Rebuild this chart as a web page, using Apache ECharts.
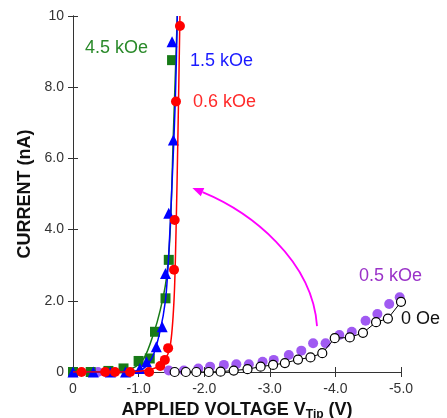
<!DOCTYPE html>
<html><head><meta charset="utf-8">
<script src="https://cdn.jsdelivr.net/npm/echarts@6/dist/echarts.min.js"></script>
<style>html,body{margin:0;padding:0;background:#fff}#c{width:447px;height:418px}</style>
</head><body><div id="c"></div>
<script>
// ---- data ----
const greenV = [0, -0.27, -0.54, -0.77, -1.0, -1.17, -1.25, -1.41, -1.46, -1.51];
const greenI = [0, 0, 0.03, 0.1, 0.31, 0.38, 1.13, 2.07, 3.15, 8.76];
const blueV = [0, -0.31, -0.57, -0.80, -1.02, -1.12, -1.27, -1.36, -1.41, -1.46, -1.53, -1.51];
const blueI = [0, 0, 0, 0, 0.1, 0.29, 0.71, 1.27, 2.77, 4.46, 6.52, 9.28];
const redV = [-0.13, -0.49, -0.64, -0.87, -1.16, -1.33, -1.40, -1.45, -1.54, -1.55, -1.57, -1.63];
const redI = [0, 0, 0, 0, 0, 0.17, 0.34, 0.67, 2.87, 4.27, 7.6, 9.72];
const greenFitV = [0, -0.5, -0.9, -1.08, -1.23, -1.33, -1.42, -1.48, -1.53, -1.59];
const greenFitI = [0, 0, 0.1, 0.38, 1.09, 1.74, 2.58, 3.9, 6.7, 10];
const blueFitV = [0, -0.5, -1.02, -1.20, -1.32, -1.41, -1.46, -1.51, -1.56, -1.59];
const blueFitI = [0, 0, 0.05, 0.38, 1.09, 2.02, 3.33, 5.3, 7.64, 10];
const redFitV = [0, -0.8, -1.23, -1.38, -1.48, -1.54, -1.57, -1.60, -1.63];
const redFitI = [0, 0, 0.1, 0.29, 0.71, 2.02, 3.9, 6.7, 10];
const blackV = [-1.55, -1.72, -1.88, -2.07, -2.25, -2.45, -2.66, -2.86, -3.05, -3.23, -3.43, -3.62, -3.80, -3.99, -4.22, -4.42, -4.62, -4.80, -5.0];
const blackI = [0, 0, 0, 0, 0.01, 0.04, 0.08, 0.15, 0.2, 0.25, 0.35, 0.41, 0.53, 0.95, 0.97, 1.1, 1.4, 1.5, 1.97];
const purpleV = [-0.38, -1.46, -1.69, -1.91, -2.09, -2.30, -2.49, -2.68, -2.89, -3.06, -3.29, -3.48, -3.66, -3.85, -4.06, -4.25, -4.46, -4.64, -4.82, -4.98];
const purpleI = [0, 0.04, 0.04, 0.1, 0.15, 0.2, 0.22, 0.22, 0.29, 0.34, 0.48, 0.6, 0.81, 0.81, 1.04, 1.13, 1.44, 1.63, 1.91, 2.1];
const xTicks = ['0', '-1.0', '-2.0', '-3.0', '-4.0', '-5.0'];
const yTicks = ['0', '2.0', '4.0', '6.0', '8.0', '10'];
const seriesLabels = ['4.5 kOe', '1.5 kOe', '0.6 kOe', '0.5 kOe', '0 Oe'];
// arrow annotation in data coordinates: start, ctrl1, ctrl2, end
const arrowPts = [[-3.72, 1.29], [-3.65, 3.15], [-2.71, 4.49], [-1.82, 5.17]];

const zip = (a, b) => a.map((v, i) => [v, b[i]]);
const FONT = '"Liberation Sans", Arial, sans-serif';
const GREEN = '#177a17', BLUE = '#0000ff', RED = '#ff0000', PURPLE = '#a05af2';

const chart = echarts.init(document.getElementById('c'), null, {renderer: 'canvas'});
const axisCommon = {
  type: 'value', min: -5, max: 0, interval: 1, inverse: true,
  axisLine: {show: true, lineStyle: {color: '#333', width: 1}},
  axisTick: {show: true, inside: true, length: 5, lineStyle: {color: '#333'}},
  splitLine: {show: false}
};
const yCommon = {
  type: 'value', min: 0, max: 10, interval: 2,
  axisLine: {show: true, lineStyle: {color: '#333', width: 1}},
  axisTick: {show: true, inside: true, length: 5, lineStyle: {color: '#333'}},
  splitLine: {show: false}
};
chart.setOption({
  animation: false,
  backgroundColor: '#fff',
  grid: {left: 73, right: 46, top: 16, bottom: 46, containLabel: false, outerBoundsMode: 'none'},
  xAxis: [
    Object.assign({}, axisCommon, {
      position: 'bottom',
      axisLabel: {fontFamily: FONT, fontSize: 14, color: '#333', margin: 10,
        formatter: v => xTicks[Math.round(-v)]},
      name: 'APPLIED VOLTAGE V{s|Tip} (V)', nameLocation: 'middle', nameGap: 27,
      nameTextStyle: {fontFamily: FONT, fontSize: 18, fontWeight: 'bold', color: '#111',
        rich: {s: {fontFamily: FONT, fontSize: 12, fontWeight: 'bold', color: '#111', padding: [10, 0, 0, 0]}}}
    }),
    Object.assign({}, axisCommon, {position: 'top', axisLabel: {show: false}})
  ],
  yAxis: [
    Object.assign({}, yCommon, {
      position: 'left',
      axisLabel: {fontFamily: FONT, fontSize: 14, color: '#333', margin: 9,
        formatter: v => yTicks[Math.round(v / 2)]},
      name: 'CURRENT (nA)', nameLocation: 'middle', nameGap: 37, nameRotate: 90,
      nameTextStyle: {fontFamily: FONT, fontSize: 18, fontWeight: 'bold', color: '#111'}
    }),
    Object.assign({}, yCommon, {position: 'right', axisLabel: {show: false}})
  ],
  series: [
    {type: 'line', data: zip(purpleV, purpleI), symbol: 'circle', symbolSize: 10,
      itemStyle: {color: PURPLE}, lineStyle: {width: 0, opacity: 0}, z: 2},
    {type: 'line', data: zip(blackV, blackI), symbol: 'circle', symbolSize: 9,
      itemStyle: {color: '#fff', borderColor: '#000', borderWidth: 1.2},
      lineStyle: {color: '#000', width: 1}, z: 3},
    {type: 'line', data: zip(greenFitV, greenFitI), smooth: 0.3, showSymbol: false,
      lineStyle: {color: GREEN, width: 1.5}, z: 4},
    {type: 'line', data: zip(greenV, greenI), symbol: 'rect', symbolSize: 10,
      itemStyle: {color: GREEN}, lineStyle: {width: 0, opacity: 0}, z: 5},
    {type: 'line', data: zip(blueFitV, blueFitI), smooth: 0.3, showSymbol: false,
      lineStyle: {color: BLUE, width: 1.5}, z: 6},
    {type: 'line', data: zip(blueV, blueI), symbol: 'triangle', symbolSize: 11,
      itemStyle: {color: BLUE}, lineStyle: {width: 0, opacity: 0}, z: 7},
    {type: 'line', data: zip(redFitV, redFitI), smooth: 0.3, showSymbol: false,
      lineStyle: {color: RED, width: 1.5}, z: 8},
    {type: 'line', data: zip(redV, redI), symbol: 'circle', symbolSize: 10,
      itemStyle: {color: RED}, lineStyle: {width: 0, opacity: 0}, z: 9}
  ]
});

// annotations
const p = arrowPts.map(d => chart.convertToPixel({xAxisIndex: 0, yAxisIndex: 0}, d));
const end = p[3], c2 = p[2];
const dx = end[0] - c2[0], dy = end[1] - c2[1], len = Math.hypot(dx, dy);
const ux = dx / len, uy = dy / len;
const hl = 11, hw = 4.5;
const base = [end[0] - ux * hl, end[1] - uy * hl];
const head = [end, [base[0] - uy * hw, base[1] + ux * hw], [base[0] + uy * hw, base[1] - ux * hw]];
const txt = (t, x, y, color) => ({type: 'text', left: x, top: y - 11, z: 20,
  style: {text: t, fontFamily: FONT, fontSize: 18, fill: color}});
chart.setOption({
  graphic: [
    {type: 'bezierCurve', z: 15, shape: {x1: p[0][0], y1: p[0][1], cpx1: p[1][0], cpy1: p[1][1],
      cpx2: p[2][0], cpy2: p[2][1], x2: base[0], y2: base[1]},
      style: {stroke: '#ff00ff', lineWidth: 1.8, fill: null}},
    {type: 'polygon', z: 15, shape: {points: head}, style: {fill: '#ff00ff'}},
    txt(seriesLabels[0], 85, 50, '#2a8a2a'),
    txt(seriesLabels[1], 190, 63, '#1a1aff'),
    txt(seriesLabels[2], 193, 104, '#ff2a2a'),
    txt(seriesLabels[3], 359, 278, '#9a32c8'),
    txt(seriesLabels[4], 401, 321, '#111')
  ]
});
</script></body></html>
